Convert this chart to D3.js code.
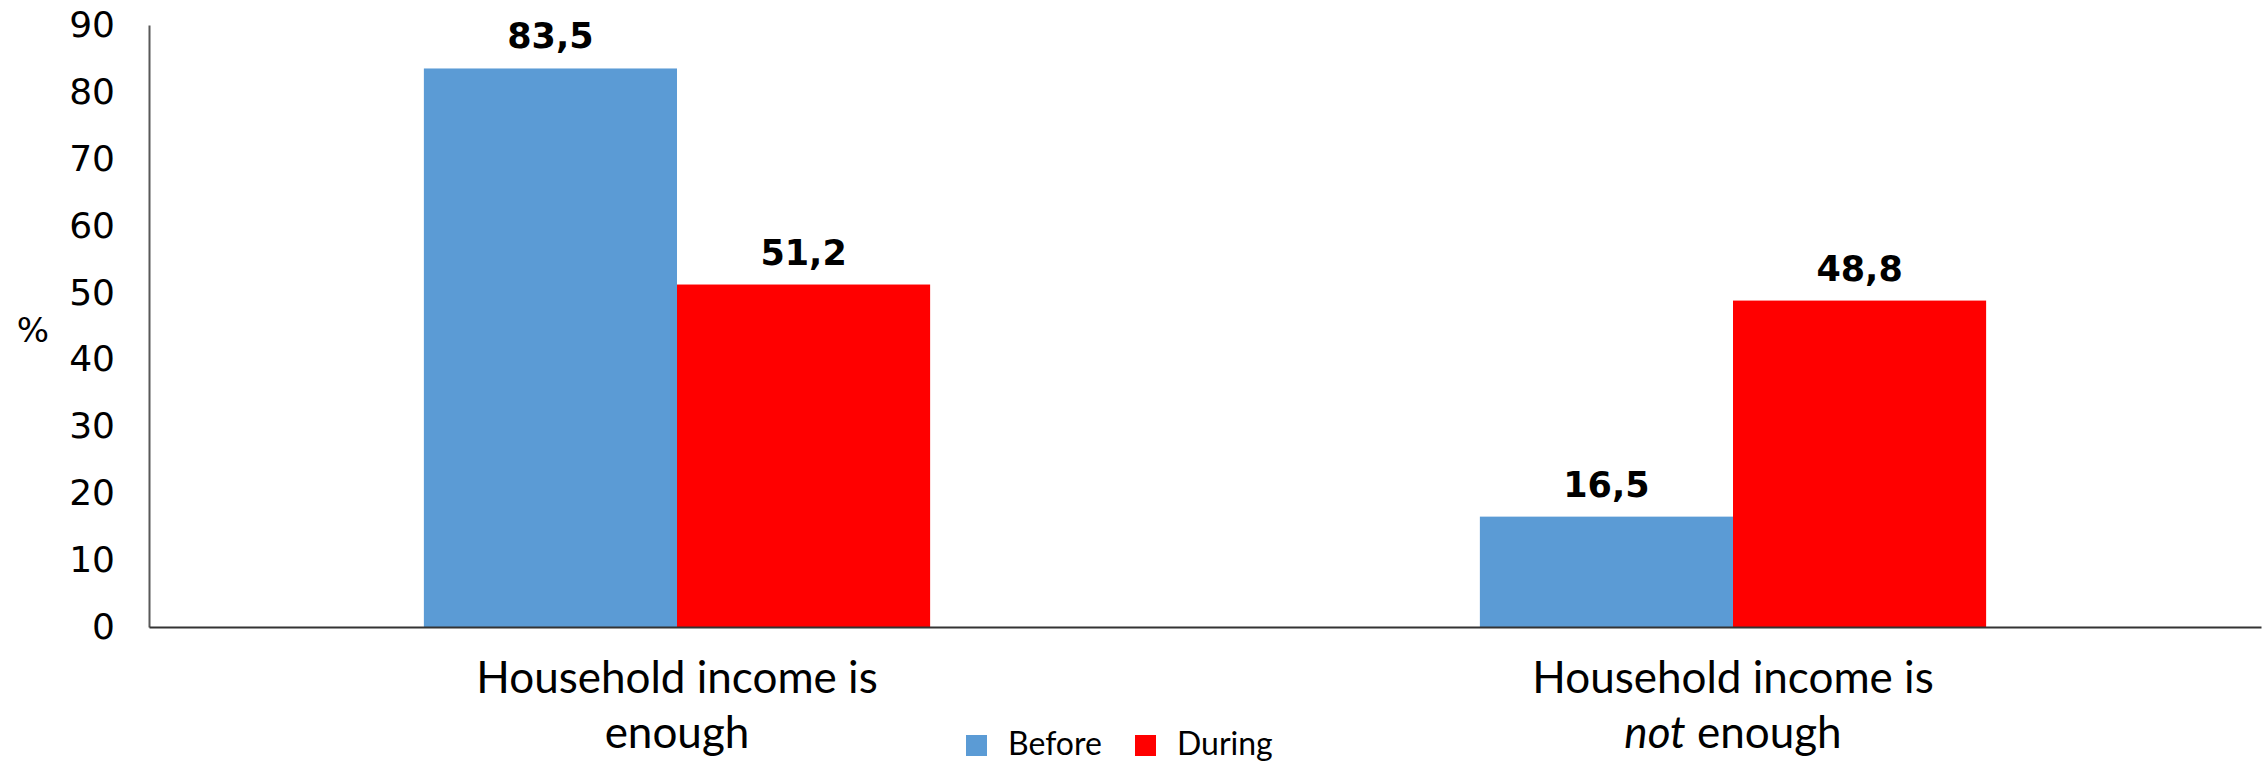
<!DOCTYPE html>
<html>
<head>
<meta charset="utf-8">
<script src="https://cdn.jsdelivr.net/npm/d3@7"></script>
<style>
  html, body { margin: 0; padding: 0; background: #fff; }
  svg { display: block; }
</style>
</head>
<body>
<svg id="chart" width="2267" height="763"></svg>
<script>
// Household income adequacy before and during the period (percent of households)
const categories = ["enough", "not enough"];
// Category labels: one array per line, each line a list of [text, italic] runs
const categoryLines = [
  [[["Household income is", false]], [["enough", false]]],
  [[["Household income is", false]], [["not", true], [" enough", false]]]
];
const seriesNames = ["Before", "During"];
const beforeValues = [83.5, 16.5];
const duringValues = [51.2, 48.8];
const yTickValues = [0, 10, 20, 30, 40, 50, 60, 70, 80, 90];
const yAxisTitle = "%";

const seriesColors = { Before: "#5B9BD5", During: "#FF0000" };
const seriesValues = { Before: beforeValues, During: duringValues };

const svg = d3.select("#chart");
const plot = { left: 149, right: 2261, top: 25, bottom: 627 };

const x0 = d3.scaleBand()
  .domain(categories)
  .range([plot.left, plot.right])
  .paddingInner(0.5206)
  .paddingOuter(0.2603);

const x1 = d3.scaleBand()
  .domain(seriesNames)
  .range([0, x0.bandwidth()]);

const y = d3.scaleLinear()
  .domain([0, 90])
  .range([plot.bottom, plot.top]);

const commaFmt = d3.formatLocale({ decimal: ",", thousands: " ", grouping: [3], currency: ["", ""] }).format(".1f");

// Bars
const groups = svg.append("g")
  .selectAll("g")
  .data(categories)
  .join("g")
  .attr("transform", d => `translate(${x0(d)},0)`);

groups.selectAll("rect")
  .data((d, i) => seriesNames.map(s => ({ s, v: seriesValues[s][i] })))
  .join("rect")
  .attr("x", d => x1(d.s))
  .attr("width", x1.bandwidth())
  .attr("y", d => y(d.v))
  .attr("height", d => y(0) - y(d.v))
  .attr("fill", d => seriesColors[d.s]);

// Value labels
groups.selectAll("text.value")
  .data((d, i) => seriesNames.map(s => ({ s, v: seriesValues[s][i] })))
  .join("text")
  .attr("class", "value")
  .attr("x", d => x1(d.s) + x1.bandwidth() / 2)
  .attr("y", d => y(d.v) - 20)
  .attr("text-anchor", "middle")
  .attr("font-family", "'DejaVu Sans', Verdana, sans-serif")
  .attr("font-weight", "bold")
  .attr("font-size", 35)
  .attr("fill", "#000")
  .text(d => commaFmt(d.v));

// Y axis
const yAxis = svg.append("g")
  .attr("transform", `translate(${plot.left},0)`)
  .call(d3.axisLeft(y).tickValues(yTickValues).tickSize(0).tickSizeOuter(0).tickPadding(34));
yAxis.select(".domain").attr("stroke", "#595959").attr("stroke-width", 2);
yAxis.selectAll(".tick text")
  .attr("font-family", "'DejaVu Sans', Verdana, sans-serif")
  .attr("font-size", 36)
  .attr("fill", "#000");

svg.append("text")
  .attr("x", 33)
  .attr("y", 330)
  .attr("dy", "0.35em")
  .attr("text-anchor", "middle")
  .attr("font-family", "'DejaVu Sans', Verdana, sans-serif")
  .attr("font-size", 34)
  .attr("fill", "#000")
  .text(yAxisTitle);

// X axis baseline
const xAxis = svg.append("g")
  .attr("transform", `translate(0,${plot.bottom})`)
  .call(d3.axisBottom(x0).tickSize(0).tickSizeOuter(0).tickFormat(""));
xAxis.select(".domain").attr("stroke", "#333").attr("stroke-width", 2);

// Category labels
const catFont = "Lato, 'Open Sans', sans-serif";
const catLabels = svg.append("g")
  .selectAll("text")
  .data(categories)
  .join("text")
  .attr("text-anchor", "middle")
  .attr("font-family", catFont)
  .attr("font-size", 44)
  .attr("fill", "#000");

catLabels.each(function (d, i) {
  const t = d3.select(this);
  const cx = x0(d) + x0.bandwidth() / 2;
  categoryLines[i].forEach((runs, li) => {
    const line = t.append("tspan")
      .attr("x", cx)
      .attr("y", 693 + li * 55);
    runs.forEach(([txt, it]) => {
      line.append("tspan")
        .attr("font-style", it ? "italic" : "normal")
        .text(txt);
    });
  });
});

// Legend
const legend = svg.append("g")
  .selectAll("g")
  .data(seriesNames)
  .join("g")
  .attr("transform", (d, i) => `translate(${966 + i * 169},0)`);

legend.append("rect")
  .attr("x", 0)
  .attr("y", 735)
  .attr("width", 21)
  .attr("height", 21)
  .attr("fill", d => seriesColors[d]);

legend.append("text")
  .attr("x", 42)
  .attr("y", 755)
  .attr("font-family", catFont)
  .attr("font-size", 32)
  .attr("fill", "#000")
  .text(d => d);
</script>
</body>
</html>
